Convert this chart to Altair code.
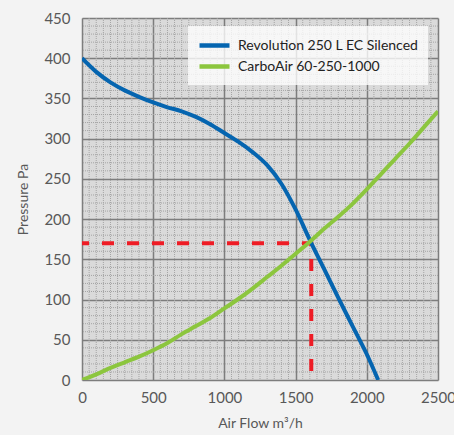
import altair as alt
import pandas as pd

# Fan curve: Revolution 250 L EC Silenced (air flow m3/h -> pressure Pa)
fan_flow = [0, 100, 200, 300, 400, 500, 600, 700, 800, 900, 1000, 1100, 1200,
            1300, 1400, 1500, 1600, 1700, 1800, 1900, 2000, 2080]
fan_pressure = [400, 383, 370, 360, 352, 345, 339, 334, 327, 318, 307, 296, 283,
                267, 244, 212, 174, 138, 102, 67, 32, 0]

# System curve: CarboAir 60-250-1000
sys_flow = [0, 100, 200, 300, 400, 500, 600, 700, 800, 900, 1000, 1100, 1200,
            1300, 1400, 1500, 1600, 1700, 1800, 1900, 2000, 2100, 2200, 2300,
            2400, 2500]
sys_pressure = [0, 7, 15, 22, 29, 37, 46, 57, 67, 77, 89, 101, 114, 128, 142,
                157, 172, 188, 203, 219, 237, 256, 275, 294, 314, 334]

# Operating point (intersection of the two curves)
op_flow = 1610
op_pressure = 170

series_names = ["Revolution 250 L EC Silenced", "CarboAir 60-250-1000"]
series_colors = ["#0565b0", "#8cc63e"]

x_ticks = [0, 500, 1000, 1500, 2000, 2500]
y_ticks = [0, 50, 100, 150, 200, 250, 300, 350, 400, 450]
x_minor = [v for v in range(0, 2501, 50) if v % 500]
y_minor = [v for v in range(0, 451, 10) if v % 50]

curves = pd.concat([
    pd.DataFrame({"flow": fan_flow, "pressure": fan_pressure, "series": series_names[0]}),
    pd.DataFrame({"flow": sys_flow, "pressure": sys_pressure, "series": series_names[1]}),
])

x_scale = alt.Scale(domain=[0, 2500], nice=False, zero=False)
y_scale = alt.Scale(domain=[0, 450], nice=False, zero=False)

FONT = "Lato"

x_axis = alt.Axis(values=x_ticks, format="d", title="Air Flow m³/h", grid=True,
                  gridColor="#7d7d7d", gridWidth=1.5, domain=False, ticks=False,
                  labelPadding=10, labelFontSize=15, labelColor="#585858",
                  labelFont=FONT, titleFont=FONT, titleFontSize=14,
                  titleColor="#585858", titleFontWeight="normal", titlePadding=11,
                  labelFlush=False)
y_axis = alt.Axis(values=y_ticks, format="d", title="Pressure Pa", grid=True,
                  gridColor="#7d7d7d", gridWidth=1.5, domain=False, ticks=False,
                  labelPadding=12, labelFontSize=15, labelColor="#585858",
                  labelFont=FONT, titleFont=FONT, titleFontSize=14,
                  titleColor="#585858", titleFontWeight="normal", titlePadding=13)

# Major grid via an invisible point layer carrying the axes
base_axes = alt.Chart(pd.DataFrame({"flow": [0], "pressure": [0]})).mark_point(opacity=0).encode(
    x=alt.X("flow:Q", scale=x_scale, axis=x_axis),
    y=alt.Y("pressure:Q", scale=y_scale, axis=y_axis),
)

# Dotted minor grid
minor_x = alt.Chart(pd.DataFrame({"flow": x_minor})).mark_rule(
    color="#a4a4a4", strokeWidth=1, strokeDash=[1, 1]
).encode(x=alt.X("flow:Q", scale=x_scale))
minor_y = alt.Chart(pd.DataFrame({"pressure": y_minor})).mark_rule(
    color="#a4a4a4", strokeWidth=1, strokeDash=[1, 1]
).encode(y=alt.Y("pressure:Q", scale=y_scale))

# Dashed red guide to the operating point
guide = pd.DataFrame({
    "flow": [0, op_flow, op_flow],
    "pressure": [op_pressure, op_pressure, 0],
    "order": [0, 1, 2],
})
guide_line = alt.Chart(guide).mark_line(
    color="#ee1c25", strokeWidth=4, strokeDash=[12, 13], strokeDashOffset=5
).encode(
    x=alt.X("flow:Q", scale=x_scale),
    y=alt.Y("pressure:Q", scale=y_scale),
    order="order:Q",
)

# Legend swatch: a long horizontal stroke, offset so it starts at the entry's left edge
swatch = "M-1,0H2.75"

lines = alt.Chart(curves).mark_line(strokeWidth=4, interpolate="monotone", clip=True).encode(
    x=alt.X("flow:Q", scale=x_scale),
    y=alt.Y("pressure:Q", scale=y_scale),
    color=alt.Color(
        "series:N",
        scale=alt.Scale(domain=series_names, range=series_colors),
        legend=alt.Legend(
            title=None, orient="none", legendX=106, legendY=8,
            fillColor="rgba(255,255,255,0.78)", padding=9,
            symbolType=swatch, symbolSize=256, symbolStrokeWidth=4.5,
            labelFont=FONT, labelFontSize=14, labelColor="#222222",
            labelOffset=20, rowPadding=1, labelLimit=300,
        ),
    ),
    detail="series:N",
)

chart = alt.layer(base_axes, minor_x, minor_y, guide_line, lines).properties(
    width=356, height=362,
    background="#f3f3f3",
    padding={"left": 82, "top": 18, "right": 16, "bottom": 55},
    autosize=alt.AutoSizeParams(type="none"),
).configure_view(fill="#dadada", stroke=None)

chart.save("out.html", embed_options={"renderer": "svg", "actions": False})
